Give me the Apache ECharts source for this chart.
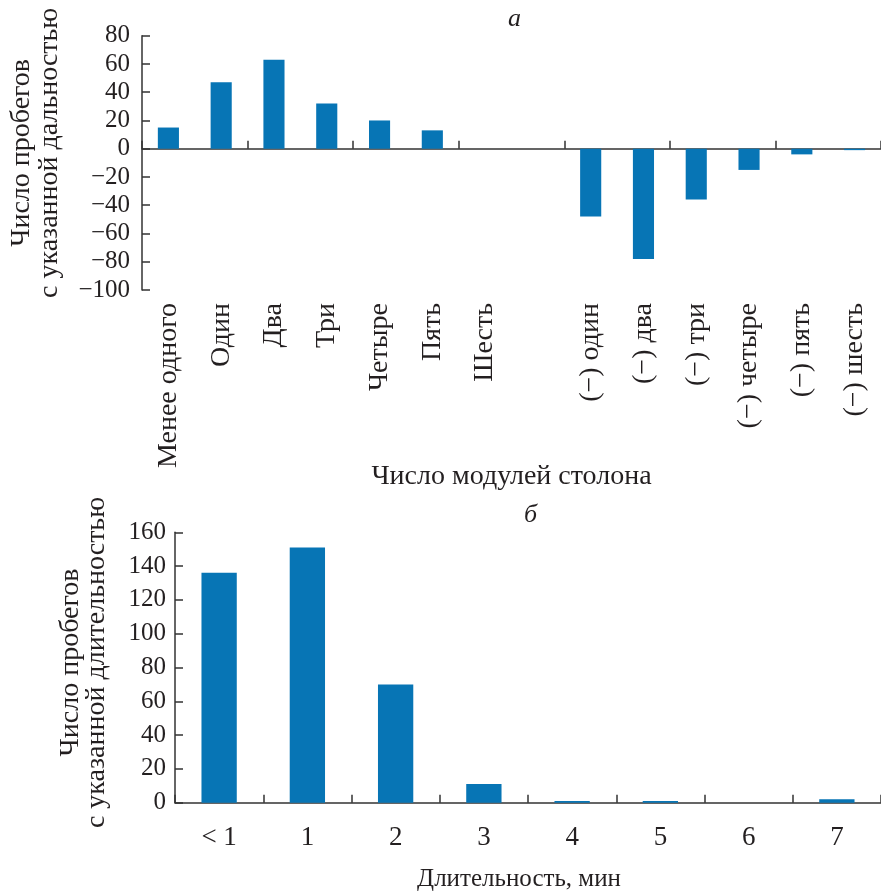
<!DOCTYPE html>
<html><head><meta charset="utf-8">
<script src="https://cdn.jsdelivr.net/npm/echarts@6/dist/echarts.min.js"></script>
<style>html,body{margin:0;padding:0;background:#fff}#c{width:881px;height:894px}</style>
</head><body><div id="c"></div>
<script>
// Panel a
const catsA = ['Менее одного','Один','Два','Три','Четыре','Пять','Шесть','','(−) один','(−) два','(−) три','(−) четыре','(−) пять','(−) шесть'];
const valsA = [15, 47, 63, 32, 20, 13, 0, null, -48, -78, -36, -15, -4, -1];
const yTicksA = {min: -100, max: 80, interval: 20};
// Panel b
const catsB = ['< 1','1','2','3','4','5','6','7'];
const valsB = [136, 151, 70, 11, 1, 1, 0, 2];
const yTicksB = {min: 0, max: 160, interval: 20};

const FONT = '"Liberation Serif", "DejaVu Serif", serif';
const INK = '#231f20';
const BAR = '#0775b5';
const lineStyle = {color: '#333', width: 1.5};
const fmt = v => v < 0 ? '−' + (-v) : String(v);

const chart = echarts.init(document.getElementById('c'));
chart.setOption({
  animation: false,
  textStyle: {fontFamily: FONT, color: INK},
  title: [
    {text: 'а', left: 503, top: 1, textStyle: {fontFamily: FONT, fontStyle: 'italic', fontWeight: 'normal', fontSize: 26, color: INK}},
    {text: 'б', left: 519, top: 497, textStyle: {fontFamily: FONT, fontStyle: 'italic', fontWeight: 'normal', fontSize: 26, color: INK}}
  ],
  grid: [
    {left: 141, top: 35.7, width: 742, height: 254.3, containLabel: false},
    {left: 175, top: 532.3, width: 715, height: 270.4, containLabel: false}
  ],
  xAxis: [
    {type: 'category', gridIndex: 0, data: catsA, position: 'bottom',
     axisLine: {show: true, onZero: true, lineStyle: lineStyle},
     axisTick: {show: true, inside: true, length: 8, lineStyle: lineStyle},
     axisLabel: {show: false}},
    {type: 'category', gridIndex: 0, data: catsA, position: 'bottom',
     axisLine: {show: false, onZero: false}, axisTick: {show: false},
     axisLabel: {show: true, rotate: 90, margin: 13, interval: 0, fontSize: 28, fontFamily: FONT, color: INK},
     name: 'Число модулей столона', nameLocation: 'middle', nameGap: 173, nameMoveOverlap: false,
     nameTextStyle: {fontSize: 28, fontFamily: FONT, color: INK}},
    {type: 'category', gridIndex: 1, data: catsB, position: 'bottom',
     axisLine: {show: true, onZero: false, lineStyle: lineStyle},
     axisTick: {show: true, inside: true, length: 8, lineStyle: lineStyle},
     axisLabel: {show: true, margin: 22, interval: 0, fontSize: 27, fontFamily: FONT, color: INK},
     name: 'Длительность, мин', nameLocation: 'middle', nameGap: 64, nameMoveOverlap: false,
     nameTextStyle: {fontSize: 25, padding: [0, 18, 0, 0], fontFamily: FONT, color: INK}}
  ],
  yAxis: [
    {type: 'value', gridIndex: 0, min: yTicksA.min, max: yTicksA.max, interval: yTicksA.interval,
     axisLine: {show: true, lineStyle: lineStyle},
     axisTick: {show: true, inside: true, length: 8, lineStyle: lineStyle},
     splitLine: {show: false},
     axisLabel: {formatter: fmt, margin: 12, fontSize: 25, fontFamily: FONT, color: INK},
     name: 'Число пробегов\nс указанной дальностью', nameLocation: 'middle', nameRotate: 90, nameGap: 78,
     nameTextStyle: {fontSize: 28, lineHeight: 28, padding: [0, 0, 0, 20], fontFamily: FONT, color: INK}},
    {type: 'value', gridIndex: 1, min: yTicksB.min, max: yTicksB.max, interval: yTicksB.interval,
     axisLine: {show: true, lineStyle: lineStyle},
     axisTick: {show: true, inside: true, length: 8, lineStyle: lineStyle},
     splitLine: {show: false},
     axisLabel: {margin: 9, fontSize: 25, fontFamily: FONT, color: INK},
     name: 'Число пробегов\nс указанной длительностью', nameLocation: 'middle', nameRotate: 90, nameGap: 65,
     nameTextStyle: {fontSize: 28, lineHeight: 26, padding: [0, 0, 0, 10], fontFamily: FONT, color: INK}}
  ],
  series: [
    {type: 'bar', xAxisIndex: 0, yAxisIndex: 0, data: valsA, barWidth: '40%', itemStyle: {color: BAR}},
    {type: 'bar', xAxisIndex: 2, yAxisIndex: 1, data: valsB, barWidth: '40%', itemStyle: {color: BAR}}
  ]
});
</script></body></html>
